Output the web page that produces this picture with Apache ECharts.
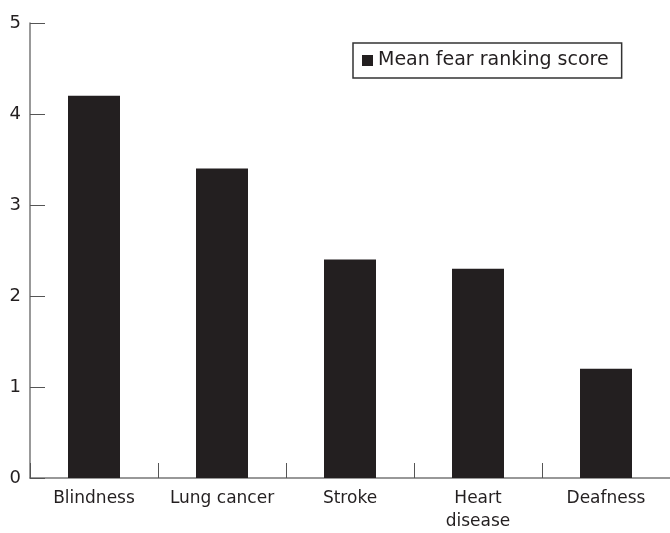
<!DOCTYPE html>
<html>
<head>
<meta charset="utf-8">
<script src="https://cdn.jsdelivr.net/npm/echarts@6/dist/echarts.min.js"></script>
<style>
  html, body { margin: 0; padding: 0; background: #fff; }
  #chart { width: 670px; height: 533px; }
</style>
</head>
<body>
<div id="chart"></div>
<script>
// data
var categories = ['Blindness', 'Lung cancer', 'Stroke', 'Heart\ndisease', 'Deafness']
var fearScores = [4.2, 3.4, 2.4, 2.3, 1.2]
var seriesName = 'Mean fear ranking score'

var myChart = echarts.init(document.getElementById('chart'))
var font = '"DejaVu Sans", sans-serif'

var option = {
  backgroundColor: '#fff',
  animation: false,
  legend: {
    data: [seriesName],
    left: 353,
    top: 43,
    icon: 'rect',
    itemWidth: 11,
    itemHeight: 11,
    itemGap: 10,
    padding: [8, 13, 8, 9],
    borderColor: '#333',
    borderWidth: 1.5,
    textStyle: { color: '#231f20', fontSize: 19, fontFamily: font }
  },
  grid: {
    left: 30,
    top: 23,
    width: 645,
    height: 456
  },
  xAxis: {
    type: 'category',
    data: categories,
    axisLine: { lineStyle: { color: '#777', width: 1.5 } },
    axisTick: { show: true, inside: true, length: 15, lineStyle: { color: '#555' } },
    axisLabel: {
      color: '#231f20', fontSize: 17, fontFamily: font,
      margin: 9, lineHeight: 23, interval: 0
    }
  },
  yAxis: {
    type: 'value',
    min: 0,
    max: 5,
    interval: 1,
    axisLine: { show: true, lineStyle: { color: '#777', width: 1.5 } },
    axisTick: { show: true, inside: true, length: 15, lineStyle: { color: '#555' } },
    splitLine: { show: false },
    axisLabel: { color: '#231f20', fontSize: 18, fontFamily: font, margin: 9 }
  },
  series: [{
    name: seriesName,
    type: 'bar',
    data: fearScores,
    barWidth: 52,
    itemStyle: { color: '#231f20' }
  }]
}

myChart.setOption(option)
</script>
</body>
</html>
